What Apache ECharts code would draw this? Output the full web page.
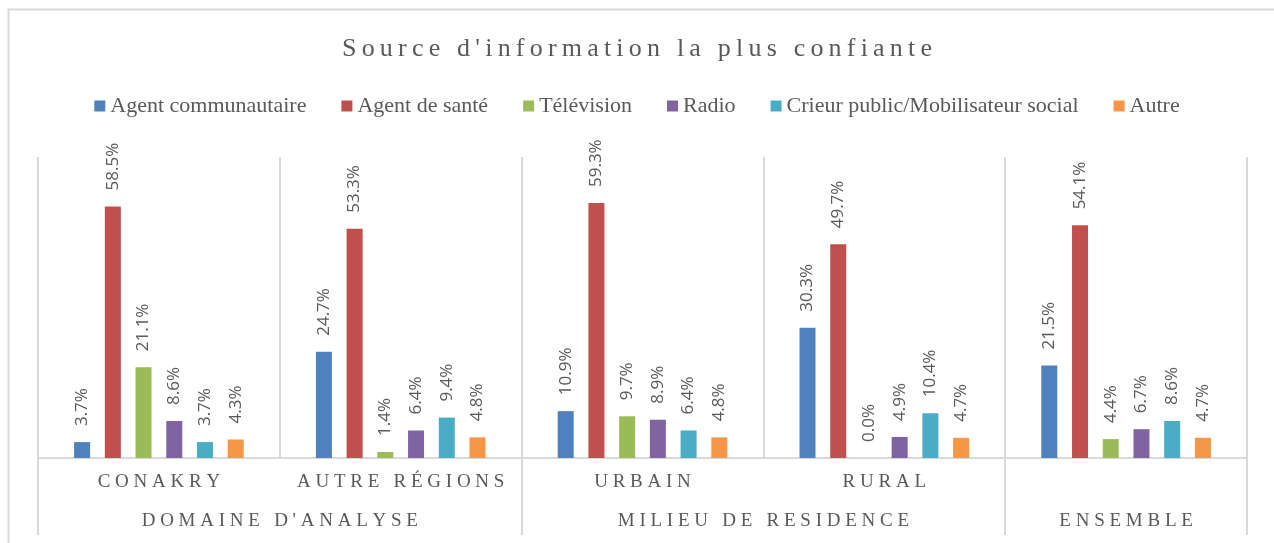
<!DOCTYPE html>
<html><head><meta charset="utf-8">
<script src="https://cdn.jsdelivr.net/npm/echarts@6/dist/echarts.min.js"></script>
<style>html,body{margin:0;padding:0;background:#fff}#c{width:1274px;height:543px}</style>
</head><body><div id="c"></div>
<script>
const chartTitle = "Source d'information la plus confiante";
const categories = ["CONAKRY", "AUTRE RÉGIONS", "URBAIN", "RURAL", ""];
const groups = ["DOMAINE D'ANALYSE", "MILIEU DE RESIDENCE", "ENSEMBLE"];
const groupSpans = [2, 2, 1];
const seriesNames = ["Agent communautaire", "Agent de santé", "Télévision", "Radio", "Crieur public/Mobilisateur social", "Autre"];
const agentCommunautaire = [3.7, 24.7, 10.9, 30.3, 21.5];
const agentSante = [58.5, 53.3, 59.3, 49.7, 54.1];
const television = [21.1, 1.4, 9.7, 0.0, 4.4];
const radio = [8.6, 6.4, 8.9, 4.9, 6.7];
const crieurPublic = [3.7, 9.4, 6.4, 10.4, 8.6];
const autre = [4.3, 4.8, 4.8, 4.7, 4.7];
const seriesValues = [agentCommunautaire, agentSante, television, radio, crieurPublic, autre];
const colors = ["#4F81BD", "#C0504D", "#9BBB59", "#8064A2", "#4BACC6", "#F79646"];

function spaced(s, sep) { return s.split('').join(sep); }

// group label positions on a half-category value axis
const groupLabelAt = {};
let start = 0;
groups.forEach((g, i) => { groupLabelAt[2 * start + groupSpans[i]] = g; start += groupSpans[i]; });

const chart = echarts.init(document.getElementById('c'), null, {renderer: 'canvas'});
const serif = "'Liberation Serif', 'DejaVu Serif', serif";
chart.setOption({
  animation: false,
  color: colors,
  title: {
    text: spaced(chartTitle, '\u2009'),
    left: 'center', top: 31,
    textStyle: {fontFamily: serif, fontSize: 26, fontWeight: 'normal', color: '#595959'}
  },
  legend: {
    top: 90, left: 'center',
    icon: 'rect', itemWidth: 11, itemHeight: 11, itemGap: 35,
    textStyle: {fontFamily: serif, fontSize: 22, color: '#595959'},
    data: seriesNames
  },
  graphic: [{
    type: 'rect', silent: true, z: -10,
    shape: {x: 8.5, y: 9.5, width: 1300, height: 600},
    style: {fill: 'none', stroke: '#d9d9d9', lineWidth: 2}
  }],
  grid: {left: 38, right: 27, top: 157, bottom: 85, containLabel: false},
  xAxis: [{
    type: 'category', data: categories, position: 'bottom',
    axisLine: {show: true, lineStyle: {color: '#d9d9d9', width: 2}},
    axisTick: {show: true, length: 77, lineStyle: {color: '#d9d9d9', width: 2},
      interval: function (idx) { let s = 0; for (let i = 0; i < groupSpans.length; i++) { if (idx === s) return true; s += groupSpans[i]; } return false; }},
    splitLine: {show: true, interval: 0, lineStyle: {color: '#d9d9d9', width: 2}},
    axisLabel: {interval: 0, margin: 15, fontFamily: serif, fontSize: 19, color: '#595959',
      formatter: v => spaced(v, '\u2005')}
  }, {
    type: 'value', position: 'bottom', min: 0, max: categories.length * 2, interval: 1,
    axisLine: {show: false}, axisTick: {show: false}, splitLine: {show: false},
    axisLabel: {show: true, margin: 54, fontFamily: serif, fontSize: 19, color: '#595959',
      showMinLabel: true, showMaxLabel: true,
      formatter: v => groupLabelAt[v] ? spaced(groupLabelAt[v], '\u2005') : ''}
  }],
  yAxis: {type: 'value', min: 0, max: 70, show: false, splitLine: {show: false}},
  series: seriesNames.map((name, i) => ({
    name, type: 'bar', xAxisIndex: 0, data: seriesValues[i],
    barWidth: 16, barGap: '92%', barCategoryGap: '30%',
    itemStyle: {color: colors[i]},
    label: {show: true, position: 'top', rotate: 90, align: 'left', verticalAlign: 'middle',
      distance: 16, color: '#595959', fontFamily: "'Open Sans', sans-serif", fontSize: 17,
      formatter: p => p.value.toFixed(1) + '%'}
  }))
});
</script></body></html>
